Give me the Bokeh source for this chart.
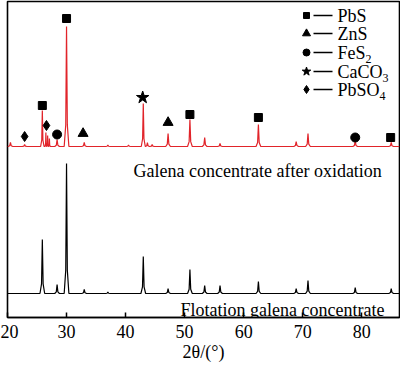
from bokeh.plotting import figure
from bokeh.models import Range1d, Label, FixedTicker
from bokeh.embed import file_html
from bokeh.resources import INLINE

# ---------------- data ----------------
x_ticks = [20, 30, 40, 50, 60, 70, 80]
x_title = "2θ/(°)"

# Flotation galena concentrate (black): peak 2theta and intensity above baseline (a.u.)
flot_base = 24
flot_pos = [25.9, 28.4, 30.0, 33.0, 37.0, 43.0, 47.2, 50.9, 53.4, 56.0, 62.5, 68.9, 70.9, 78.9, 85.0]
flot_int = [54, 9, 130, 4, 1.5, 37, 5, 24, 8, 8, 12, 5, 13, 6, 5]

# Galena concentrate after oxidation (red)
ox_base = 171
ox_pos = [20.5, 22.9, 25.9, 26.5, 26.8, 27.1, 28.4, 30.0, 33.0, 37.0, 40.5, 43.0, 43.7, 44.5,
          47.2, 50.9, 53.4, 56.0, 62.5, 68.9, 70.9, 78.9, 85.0]
ox_int = [4, 2, 36, 14, 11, 8, 7, 120, 4, 1.5, 1.5, 43, 4, 2,
          13, 27, 9, 3, 22, 5, 13, 6, 4]

# phase markers above the oxidised pattern (2theta, height above baseline)
pbs_pos = [25.9, 30.0, 50.9, 62.5, 84.9]
pbs_h = [41, 128, 32, 29, 9]
zns_pos = [32.8, 47.2]
zns_h = [13, 24]
fes2_pos = [28.4, 78.9]
fes2_h = [12, 9]
caco3_pos = [42.9]
caco3_h = [49]
pbso4_pos = [22.9, 26.6]
pbso4_h = [10, 21]

legend_names = ["PbS", "ZnS", "FeS", "CaCO", "PbSO"]
legend_subs = ["", "", "2", "3", "4"]
legend_markers = ["square", "triangle", "circle", "star", "diamond"]

# ---------------- layout ----------------
W, H = 400, 366
BL, BR, BT, BB = 7, 1, 1, 49
X0, X1 = 20, 86.4
FW = W - BL - BR
FH = H - BT - BB
PAGE_L = BL
PAGE_B = H - BB  # canvas y of frame bottom


def px(X):
    return X0 + (X - PAGE_L) * (X1 - X0) / FW


def py(Y):
    return PAGE_B - Y


def pdx(d):
    return d * (X1 - X0) / FW


FONT = "Liberation Serif"
RED = "#e1242a"

p = figure(width=W, height=H, output_backend="svg", toolbar_location=None,
           x_range=Range1d(X0, X1), y_range=Range1d(0, FH),
           min_border_left=BL, min_border_right=BR, min_border_top=BT, min_border_bottom=BB)
p.background_fill_color = "white"
p.border_fill_color = "white"
p.outline_line_color = "black"
p.outline_line_width = 1.6
p.grid.visible = False
p.yaxis.visible = False

ax = p.xaxis[0]
ax.ticker = FixedTicker(ticks=x_ticks)
ax.major_tick_in = 5
ax.major_tick_out = 0
ax.minor_tick_line_color = None
ax.major_tick_line_width = 1.5
ax.axis_line_width = 1.6
ax.major_label_text_font = FONT
ax.major_label_text_font_size = "18px"
ax.major_label_text_color = "black"
ax.major_label_standoff = 7
ax.axis_label = x_title
ax.axis_label_text_font = FONT
ax.axis_label_text_font_size = "18px"
ax.axis_label_text_font_style = "normal"
ax.axis_label_text_color = "black"
ax.axis_label_standoff = 1


def spectrum(pos, inten, base):
    xs, ys = [X0], [base]
    n = len(pos)
    for i in range(n):
        left_gap = pos[i] - pos[i - 1] if i > 0 else 1.0
        right_gap = pos[i + 1] - pos[i] if i < n - 1 else 1.0
        w = min(0.4, left_gap / 2 - 0.01, right_gap / 2 - 0.01)
        a = inten[i]
        xs += [pos[i] - w, pos[i] - w / 3, pos[i], pos[i] + w / 3, pos[i] + w]
        ys += [base, base + 0.18 * a, base + a, base + 0.18 * a, base]
    xs.append(X1)
    ys.append(base)
    return xs, ys


fx, fy = spectrum(flot_pos, flot_int, flot_base)
p.line(fx, fy, line_color="black", line_width=1.2)
oxx, oxy = spectrum(ox_pos, ox_int, ox_base)
p.line(oxx, oxy, line_color=RED, line_width=1.2)

marker_sets = [(pbs_pos, pbs_h, "square", 8), (zns_pos, zns_h, "triangle", 10),
               (fes2_pos, fes2_h, "circle", 9), (caco3_pos, caco3_h, "star", 13),
               (pbso4_pos, pbso4_h, "diamond", 10)]
for pos, h, mk, sz in marker_sets:
    p.scatter(pos, [ox_base + v for v in h], marker=mk, size=sz,
              fill_color="black", line_color="black")

# legend
rows = [15, 33, 52, 71, 89]
leg_sizes = [6, 8, 7, 9, 8]
name_w = [0, 0, 28, 45, 42]
for name, sub, mk, ry, sz, nw in zip(legend_names, legend_subs, legend_markers, rows, leg_sizes, name_w):
    p.scatter([px(306)], [py(ry)], marker=mk, size=sz, fill_color="black", line_color="black")
    p.segment(x0=[px(313)], y0=[py(ry)], x1=[px(332)], y1=[py(ry)], line_color="black", line_width=1.4)
    p.add_layout(Label(x=px(337), y=py(ry), text=name, text_font=FONT, text_font_size="18px",
                       text_baseline="middle", text_color="black"))
    if sub:
        p.add_layout(Label(x=px(337) + pdx(nw), y=py(ry + 6), text=sub, text_font=FONT,
                           text_font_size="12px", text_baseline="middle", text_color="black"))

p.add_layout(Label(x=px(133), y=py(170), text="Galena concentrate after oxidation", text_font=FONT,
                   text_font_size="18px", text_baseline="alphabetic", text_color="black"))
p.add_layout(Label(x=px(180), y=py(309), text="Flotation galena concentrate", text_font=FONT,
                   text_font_size="18px", text_baseline="alphabetic", text_color="black"))

open("out.html", "w").write(file_html(p, INLINE))
